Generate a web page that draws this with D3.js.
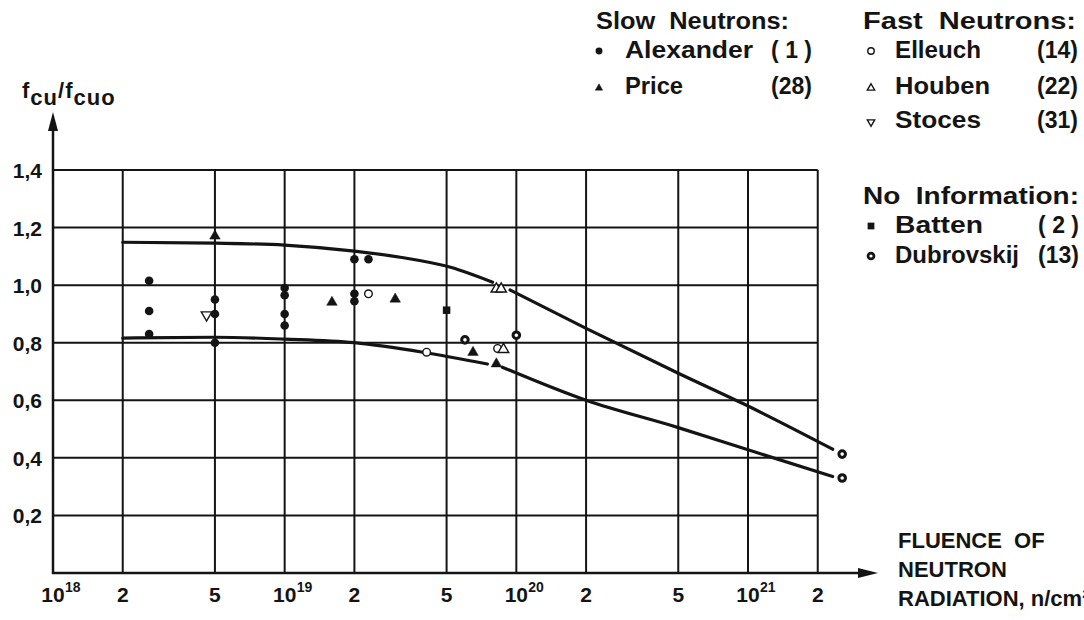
<!DOCTYPE html>
<html>
<head>
<meta charset="utf-8">
<script src="https://cdn.jsdelivr.net/npm/d3@7"></script>
<style>
  body { margin: 0; background: #fff; }
  svg { display: block; font-family: "Liberation Sans", Arial, sans-serif; font-weight: bold; }
</style>
</head>
<body>
<div id="chart"></div>
<script>
const width = 1084;
const height = 620;
const ink = '#141414';

// x: fluence of neutron radiation (n/cm2), log scale; y: fcu/fcuo
const xGrid = [2e18, 5e18, 1e19, 2e19, 5e19, 1e20, 2e20, 5e20, 1e21, 2e21];
const xTickValues = [1e18, 2e18, 5e18, 1e19, 2e19, 5e19, 1e20, 2e20, 5e20, 1e21, 2e21];
const xTickBase = ['10', '2', '5', '10', '2', '5', '10', '2', '5', '10', '2'];
const xTickExp = ['18', '', '', '19', '', '', '20', '', '', '21', ''];
const yTickValues = [0.2, 0.4, 0.6, 0.8, 1.0, 1.2, 1.4];
const yTickLabels = ['0,2', '0,4', '0,6', '0,8', '1,0', '1,2', '1,4'];

const alexander = [
  [2.6e18, 1.015], [2.6e18, 0.91], [2.6e18, 0.83],
  [5e18, 0.95], [5e18, 0.90], [5e18, 0.80],
  [1e19, 0.99], [1e19, 0.965], [1e19, 0.90], [1e19, 0.86],
  [2e19, 1.09], [2e19, 0.97], [2e19, 0.944], [2.3e19, 1.09]
];
const price = [[5e18, 1.174], [1.6e19, 0.944], [3e19, 0.955], [6.5e19, 0.77], [8.2e19, 0.73]];
const elleuch = [[2.3e19, 0.97], [4.1e19, 0.767], [8.3e19, 0.78]];
const houben = [[8.2e19, 0.99], [8.6e19, 0.99], [8.8e19, 0.78]];
const stoces = [[4.6e18, 0.90]];
const batten = [[5e19, 0.913]];
const dubrovskij = [[6e19, 0.81], [1e20, 0.826], [2.55e21, 0.413], [2.55e21, 0.33]];

// upper / lower limit curves, broken where the markers sit
const upperA = [[2e18, 1.149], [5e18, 1.146], [1e19, 1.139], [2e19, 1.118], [3.15e19, 1.097], [5.2e19, 1.062], [7.9e19, 1.01]];
const upperB = [[9.4e19, 0.983], [2e20, 0.85], [5e20, 0.694], [1e21, 0.58], [2.32e21, 0.43]];
const lowerA = [[2e18, 0.816], [5e18, 0.819], [1e19, 0.8125], [2e19, 0.80], [3.95e19, 0.767], [7.5e19, 0.726]];
const lowerB = [[8.7e19, 0.715], [2e20, 0.60], [5e20, 0.505], [1e21, 0.428], [2.32e21, 0.335]];

// legend entries
const slowNames = ['Alexander', 'Price'];
const slowRefs = ['( 1 )', '(28)'];
const fastNames = ['Elleuch', 'Houben', 'Stoces'];
const fastRefs = ['(14)', '(22)', '(31)'];
const noInfoNames = ['Batten', 'Dubrovskij'];
const noInfoRefs = ['( 2 )', '(13)'];

const svg = d3.select('#chart')
  .append('svg')
  .attr('width', width)
  .attr('height', height);

svg.append('rect').attr('width', width).attr('height', height).attr('fill', '#fff');

const x = d3.scaleLog().domain([1e18, 1e21]).range([53, 748]);
const y = d3.scaleLinear().domain([0, 1.4]).range([573, 170]);
const xRight = x(2e21);

// grid
const grid = svg.append('g').attr('stroke', ink).attr('stroke-width', 2);
grid.selectAll('.hgrid')
  .data(yTickValues)
  .enter()
  .append('line')
  .attr('x1', x(1e18)).attr('x2', xRight)
  .attr('y1', d => y(d)).attr('y2', d => y(d));
grid.selectAll('.vgrid')
  .data(xGrid)
  .enter()
  .append('line')
  .attr('x1', d => x(d)).attr('x2', d => x(d))
  .attr('y1', y(0)).attr('y2', y(1.4));

// axes with arrows
svg.append('line')
  .attr('x1', x(1e18)).attr('x2', x(1e18))
  .attr('y1', y(0) + 1).attr('y2', 128)
  .attr('stroke', ink).attr('stroke-width', 2.5);
svg.append('path')
  .attr('d', `M${x(1e18)},112 L${x(1e18) - 5},131 L${x(1e18) + 5},131 Z`)
  .attr('fill', ink);
svg.append('line')
  .attr('x1', x(1e18) - 1).attr('x2', 862)
  .attr('y1', y(0)).attr('y2', y(0))
  .attr('stroke', ink).attr('stroke-width', 2.5);
svg.append('path')
  .attr('d', `M878,${y(0)} L858,${y(0) - 5} L858,${y(0) + 5} Z`)
  .attr('fill', ink);

// y tick labels
svg.selectAll('.ylab')
  .data(yTickValues)
  .enter()
  .append('text')
  .attr('x', 42)
  .attr('y', d => y(d) + 8)
  .attr('text-anchor', 'end')
  .style('font-size', '21px')
  .attr('fill', ink)
  .text((d, i) => yTickLabels[i]);

// x tick labels (with powers of ten)
xTickValues.forEach((v, i) => {
  svg.append('text')
    .attr('x', x(v))
    .attr('y', 602)
    .attr('text-anchor', 'middle')
    .style('font-size', '21px')
    .attr('fill', ink)
    .text(xTickBase[i]);
  if (xTickExp[i]) {
    svg.append('text')
      .attr('x', x(v) + 12)
      .attr('y', 592)
      .style('font-size', '14px')
      .attr('fill', ink)
      .text(xTickExp[i]);
  }
});

// y axis title
const yTitle = svg.append('text')
  .attr('x', 22)
  .attr('y', 98)
  .style('font-size', '22px')
  .style('letter-spacing', '1px')
  .attr('fill', ink);
yTitle.append('tspan').text('f');
yTitle.append('tspan').attr('dy', 7).text('cu');
yTitle.append('tspan').attr('dy', -7).text('/f');
yTitle.append('tspan').attr('dy', 7).text('cuo');

// x axis title (runs off the right edge as in the source figure)
['FLUENCE  OF', 'NEUTRON', 'RADIATION, n/cm²'].forEach((t, i) => {
  svg.append('text')
    .attr('x', 898)
    .attr('y', 548 + i * 29)
    .style('font-size', '22px')
    .style('white-space', 'pre')
    .attr('fill', ink)
    .text(t);
});

// limit curves
const line = d3.line()
  .x(d => x(d[0]))
  .y(d => y(d[1]))
  .curve(d3.curveMonotoneX);
svg.selectAll('.band')
  .data([upperA, upperB, lowerA, lowerB])
  .enter()
  .append('path')
  .attr('d', line)
  .attr('fill', 'none')
  .attr('stroke', ink)
  .attr('stroke-width', 3.2)
  .attr('stroke-linecap', 'round');

// marker shapes; points are [fluence, value] or raw pixels for the legend
const tri = d3.symbol().type(d3.symbolTriangle);
function drawMarkers(data, kind, scale, pixels) {
  const k = scale || 1;
  const g = svg.append('g');
  data.forEach(d => {
    const cx = pixels ? d[0] : x(d[0]);
    const cy = pixels ? d[1] : y(d[1]);
    if (kind === 'dot') {
      g.append('circle').attr('cx', cx).attr('cy', cy).attr('r', 4.3 * k).attr('fill', ink);
    } else if (kind === 'ring') {
      g.append('circle').attr('cx', cx).attr('cy', cy).attr('r', 3.8 * k)
        .attr('fill', '#fff').attr('stroke', ink).attr('stroke-width', 1.4);
    } else if (kind === 'thickring') {
      g.append('circle').attr('cx', cx).attr('cy', cy).attr('r', 3.3 * k)
        .attr('fill', '#fff').attr('stroke', ink).attr('stroke-width', 3 * k);
    } else if (kind === 'tri' || kind === 'otri' || kind === 'dtri') {
      g.append('path')
        .attr('d', tri.size(48 * k * k)())
        .attr('transform', `translate(${cx},${cy + 1})` + (kind === 'dtri' ? ' rotate(180)' : ''))
        .attr('fill', kind === 'tri' ? ink : '#fff')
        .attr('stroke', ink)
        .attr('stroke-width', kind === 'tri' ? 0.5 : 1.4);
    } else if (kind === 'square') {
      const s = 7.5 * k;
      g.append('rect').attr('x', cx - s / 2).attr('y', cy - s / 2)
        .attr('width', s).attr('height', s).attr('fill', ink);
    }
  });
}

drawMarkers(alexander, 'dot');
drawMarkers(price, 'tri');
drawMarkers(elleuch, 'ring');
drawMarkers(houben, 'otri');
drawMarkers(stoces, 'dtri');
drawMarkers(batten, 'square');
drawMarkers(dubrovskij, 'thickring');

// legend (the printed face is wider than Arial, so glyphs are stretched a little)
function legendText(xp, yp, t, len, anchor) {
  const el = svg.append('text')
    .attr('x', xp)
    .attr('y', yp)
    .attr('text-anchor', anchor || 'start')
    .style('font-size', '23px')
    .style('white-space', 'pre')
    .attr('fill', ink)
    .text(t);
  if (len) el.attr('textLength', len).attr('lengthAdjust', 'spacingAndGlyphs');
}
legendText(596, 29, 'Slow  Neutrons:', 193);
legendText(863, 29, 'Fast  Neutrons:', 213);
legendText(863, 204, 'No  Information:', 216);

const slowY = [58, 94];
slowNames.forEach((n, i) => {
  legendText(625, slowY[i], n, i === 0 ? 128 : 58);
  legendText(812, slowY[i], slowRefs[i], null, 'end');
});
drawMarkers([[599, 51]], 'dot', 0.8, true);
drawMarkers([[599, 87]], 'tri', 0.7, true);

const fastY = [58, 94, 128];
const fastLen = [86, 95, 86];
fastNames.forEach((n, i) => {
  legendText(895, fastY[i], n, fastLen[i]);
  legendText(1078, fastY[i], fastRefs[i], null, 'end');
});
drawMarkers([[871, 51]], 'ring', 0.85, true);
drawMarkers([[871, 87]], 'otri', 0.7, true);
drawMarkers([[871, 121]], 'dtri', 0.7, true);

const noInfoY = [233, 263];
const noInfoLen = [88, 124];
noInfoNames.forEach((n, i) => {
  legendText(895, noInfoY[i], n, noInfoLen[i]);
  legendText(1079, noInfoY[i], noInfoRefs[i], null, 'end');
});
drawMarkers([[871, 226]], 'square', 0.9, true);
drawMarkers([[871, 256]], 'thickring', 0.9, true);
</script>
</body>
</html>
